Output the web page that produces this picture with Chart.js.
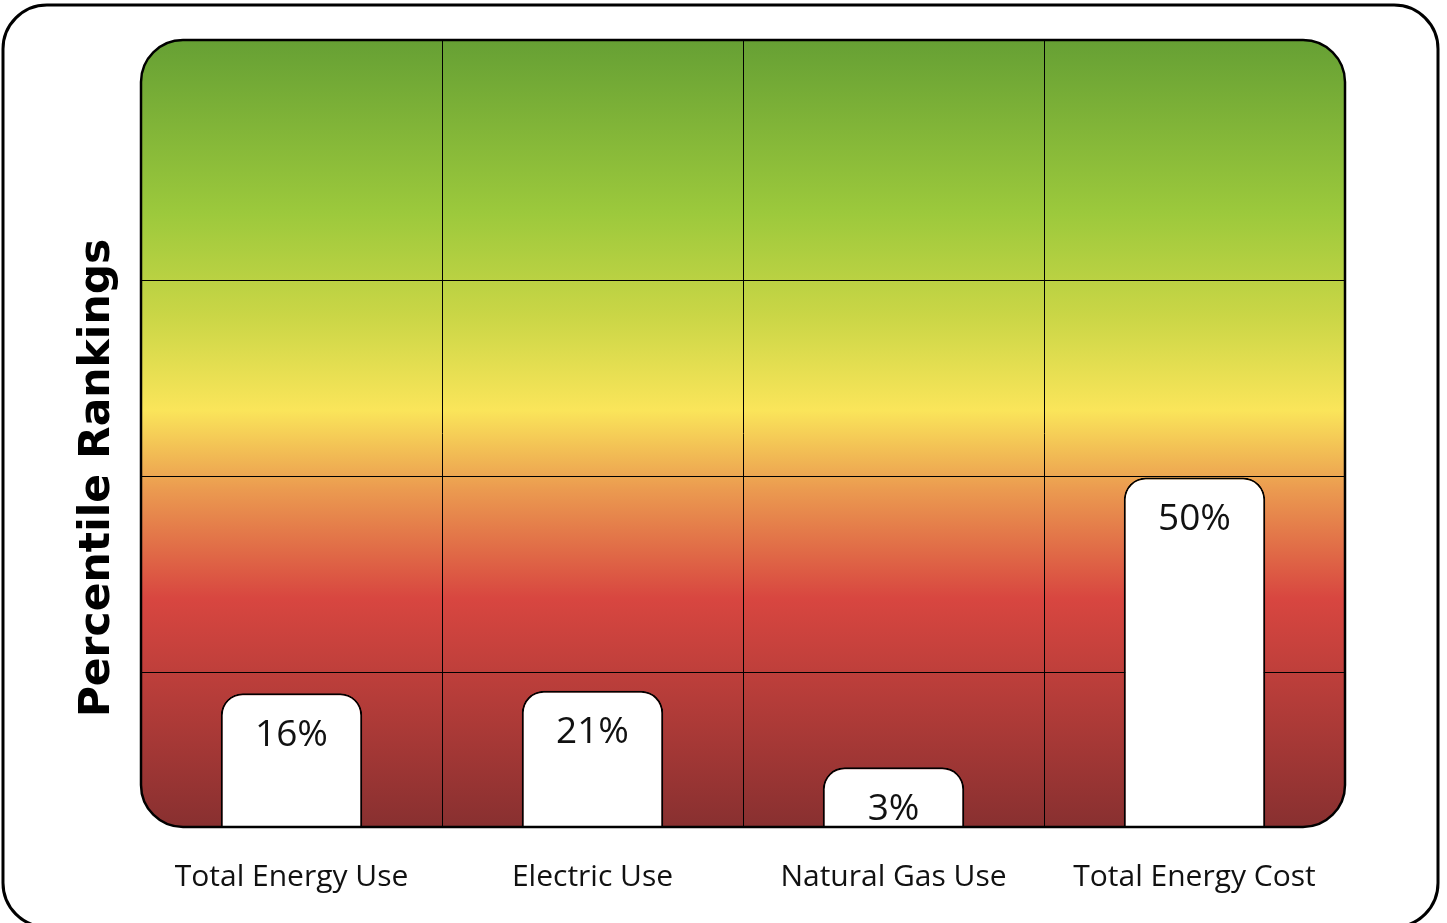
<!DOCTYPE html>
<html>
<head>
<meta charset="utf-8">
<script src="https://cdn.jsdelivr.net/npm/chart.js@4"></script>
<style>
  html, body { margin: 0; padding: 0; background: #fff; }
  #wrap { width: 1447px; height: 923px; position: relative; }
</style>
</head>
<body>
<div id="wrap"><canvas id="rankChart"></canvas></div>
<script>
// categories and values
const categories = ['Total Energy Use', 'Electric Use', 'Natural Gas Use', 'Total Energy Cost'];
const percentLabels = ['16%', '21%', '3%', '50%'];
// bar tops as drawn, on a 0-100 axis spanning the plot height
const barHeights = [17.0, 17.3, 7.6, 44.4];
// horizontal grid lines as drawn (axis units)
const gridTicks = [0, 19.6, 44.5, 69.5, 100];

const FONT = '"Open Sans", "DejaVu Sans", sans-serif';

function roundRect(ctx, x, y, w, h, r) {
  ctx.beginPath();
  ctx.moveTo(x + r, y);
  ctx.lineTo(x + w - r, y);
  ctx.arcTo(x + w, y, x + w, y + r, r);
  ctx.lineTo(x + w, y + h - r);
  ctx.arcTo(x + w, y + h, x + w - r, y + h, r);
  ctx.lineTo(x + r, y + h);
  ctx.arcTo(x, y + h, x, y + h - r, r);
  ctx.lineTo(x, y + r);
  ctx.arcTo(x, y, x + r, y, r);
  ctx.closePath();
}

// frame, gradient panel, border, title and bar labels
const decor = {
  id: 'decor',
  beforeDraw(chart) {
    const ctx = chart.ctx;
    const a = chart.chartArea;
    ctx.save();
    // outer frame
    roundRect(ctx, 3, 5, 1435, 922, 44);
    ctx.lineWidth = 3;
    ctx.strokeStyle = '#000';
    ctx.stroke();
    // gradient panel
    const g = ctx.createLinearGradient(0, a.top, 0, a.bottom);
    g.addColorStop(0, '#66a034');
    g.addColorStop(0.22, '#9cc93c');
    g.addColorStop(0.35, '#cad646');
    g.addColorStop(0.47, '#fae55a');
    g.addColorStop(0.57, '#eb9b50');
    g.addColorStop(0.71, '#d84640');
    g.addColorStop(1, '#883030');
    roundRect(ctx, a.left, a.top, a.right - a.left, a.bottom - a.top, 42);
    ctx.fillStyle = g;
    ctx.fill();
    ctx.restore();
  },
  afterDatasetsDraw(chart) {
    const ctx = chart.ctx;
    const a = chart.chartArea;
    ctx.save();
    roundRect(ctx, a.left, a.top, a.right - a.left, a.bottom - a.top, 42);
    ctx.lineWidth = 2.5;
    ctx.strokeStyle = '#000';
    ctx.stroke();

    // percent labels inside the bars
    ctx.fillStyle = '#111';
    ctx.font = '37px ' + FONT;
    ctx.textAlign = 'center';
    ctx.textBaseline = 'middle';
    chart.getDatasetMeta(0).data.forEach((bar, i) => {
      ctx.fillText(percentLabels[i], bar.x, bar.y + 42);
    });

    // y title
    ctx.translate(98, 478);
    ctx.rotate(-Math.PI / 2);
    ctx.font = 'bold 42.5px "DejaVu Sans", sans-serif';
    ctx.fillStyle = '#000';
    ctx.fillText('Percentile Rankings', 0, 0);
    ctx.restore();
  }
};

new Chart(document.getElementById('rankChart'), {
  type: 'bar',
  data: {
    labels: categories,
    datasets: [{
      data: barHeights,
      backgroundColor: '#fff',
      borderColor: '#000',
      borderWidth: 2,
      borderSkipped: 'bottom',
      borderRadius: { topLeft: 22, topRight: 22, bottomLeft: 0, bottomRight: 0 },
      categoryPercentage: 1,
      barPercentage: 0.47
    }]
  },
  options: {
    responsive: true,
    maintainAspectRatio: false,
    animation: false,
    layout: { padding: { top: 40, right: 102, left: 0, bottom: 0 } },
    plugins: {
      legend: { display: false },
      tooltip: { enabled: false }
    },
    scales: {
      x: {
        border: { display: false },
        grid: {
          offset: true,
          drawTicks: false,
          lineWidth: 1,
          color: ctx => (ctx.type !== 'tick' || ctx.index === 0) ? 'rgba(0,0,0,0)' : '#000'
        },
        ticks: {
          color: '#111',
          padding: 32,
          font: { family: FONT, size: 30 }
        },
        afterFit(scale) { scale.height = 96; }
      },
      y: {
        min: 0,
        max: 100,
        border: { display: false },
        grid: {
          drawTicks: false,
          lineWidth: 1,
          color: ctx => (ctx.tick && (ctx.tick.value === 0 || ctx.tick.value === 100)) ? 'rgba(0,0,0,0)' : '#000'
        },
        ticks: { display: false },
        afterBuildTicks(scale) { scale.ticks = gridTicks.map(v => ({ value: v })); },
        afterFit(scale) { scale.width = 141; }
      }
    }
  },
  plugins: [decor]
});
</script>
</body>
</html>
